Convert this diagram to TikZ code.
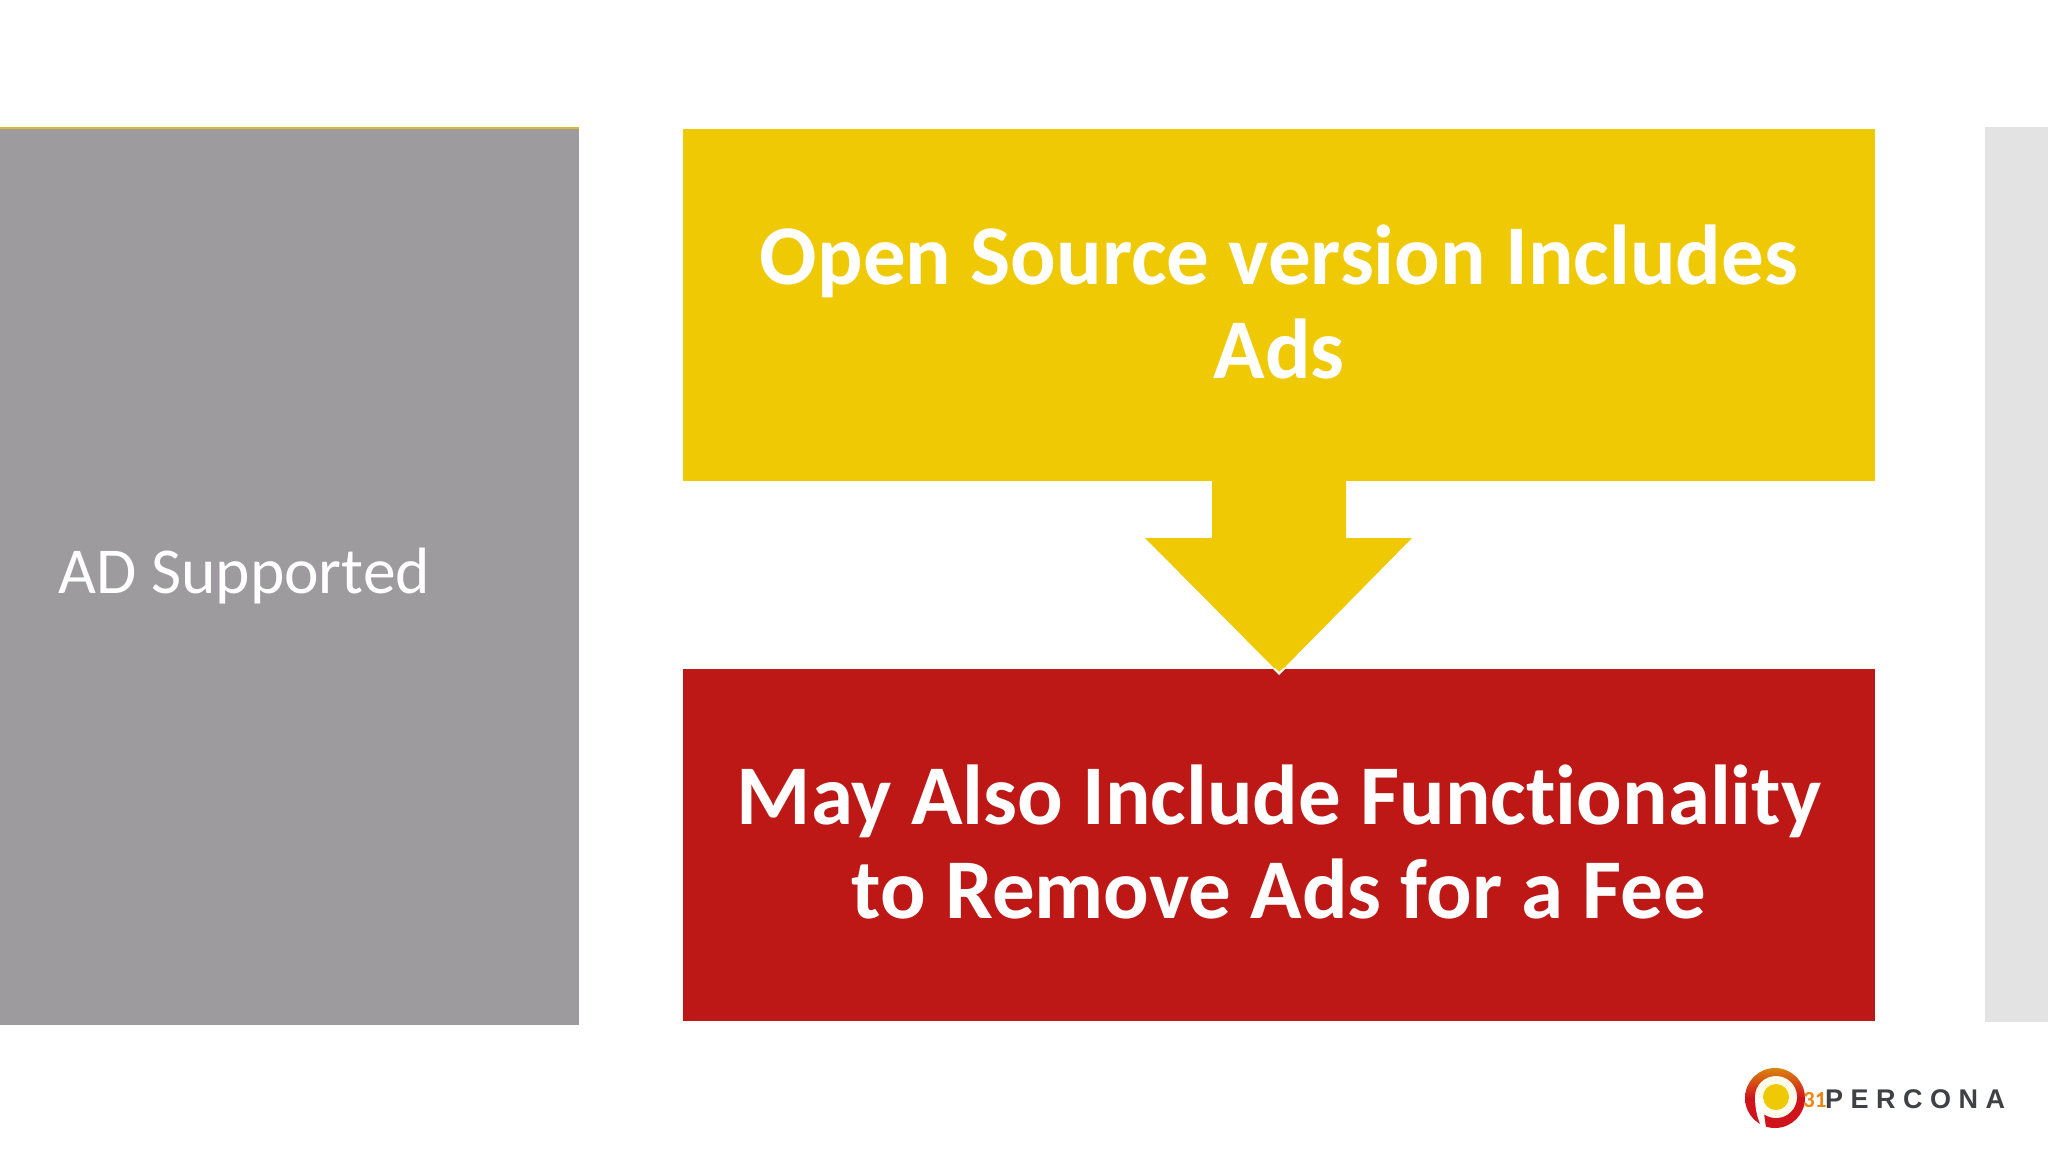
\documentclass[tikz,border=0pt]{standalone}
\usepackage{fontspec}
\setmainfont[RawFeature={-liga;-clig;-dlig}]{Carlito}
\newfontfamily\logofont{Liberation Sans}
\definecolor{pyellow}{HTML}{F0C905}
\definecolor{pred}{HTML}{BD1816}
\definecolor{pgray}{HTML}{9D9B9E}
\definecolor{plight}{HTML}{E3E3E4}
\definecolor{porange}{HTML}{F0860F}
\definecolor{plogo}{HTML}{3F4145}
\definecolor{logored}{HTML}{D0141C}
\definecolor{logotop}{HTML}{D9840F}
\tikzset{
  panel/.style={draw=none,inner sep=0pt,outer sep=0pt,anchor=north west},
  bigtext/.style={text=white,font=\bfseries\fontsize{85}{94}\selectfont,align=center},
}
\begin{document}
\begin{tikzpicture}[x=1pt,y=-1pt]
\useasboundingbox (0,0) rectangle (2048,1152);
\fill[white] (0,0) rectangle (2048,1152);
% side panels
\node[panel,fill=pgray,minimum width=579pt,minimum height=898pt] (gray) at (0,127) {};
\fill[pyellow!70!pgray] (0,127) rectangle (579,128.5);
\node[panel,fill=plight,minimum width=63pt,minimum height=895pt] (light) at (1985,127) {};
\node[text=white,font=\fontsize{65.5}{74}\selectfont,anchor=west,inner sep=0pt] (adtext) at (58,576) {AD Supported};
% arrow
\fill[pyellow] (1212,470) -- (1346,470) -- (1346,538) -- (1412,538) -- (1279,673) -- (1145,538) -- (1212,538) -- cycle;
% boxes
\node[panel,fill=pred,minimum width=1192pt,minimum height=352pt] (redbox) at (683,669) {};
\fill[pyellow] (1279,673) -- (1275,669) -- (1283,669) -- cycle;
\fill[white] (1279,675) -- (1272,668) -- (1275,668) -- (1279,672) -- (1283,668) -- (1286,668) -- cycle;
\node[panel,fill=pyellow,minimum width=1192pt,minimum height=352pt] (yellowbox) at (683,129) {};
\node[bigtext] (t1) at (1279,302) {Open Source version Includes\\Ads};
\node[bigtext] (t2) at (1279,842) {May Also Include Functionality\\to Remove Ads for a Fee};
% logo
\shade[top color=logotop,bottom color=logored,middle color=logored] (1775,1098) circle (30);
\fill[white!92!pyellow] (1776,1097) circle (21);
\fill[pyellow] (1776,1097) circle (13);
\fill[white] (1755,1097) .. controls (1755,1108) and (1757,1117) .. (1761,1126) -- (1766,1127) .. controls (1764,1118) and (1764,1110) .. (1764,1100) -- cycle;
\node[font=\logofont\bfseries\fontsize{27}{30}\selectfont,text=plogo,anchor=west,inner sep=0pt] (logotext) at (1825,1099) {P\hspace{7.5pt}E\hspace{7.5pt}R\hspace{7.5pt}C\hspace{7.5pt}O\hspace{7.5pt}N\hspace{7.5pt}A};
\node[font=\bfseries\fontsize{23}{30}\selectfont,text=porange,anchor=west,inner sep=0pt] (pagenum) at (1803,1100) {31};
\end{tikzpicture}
\end{document}
